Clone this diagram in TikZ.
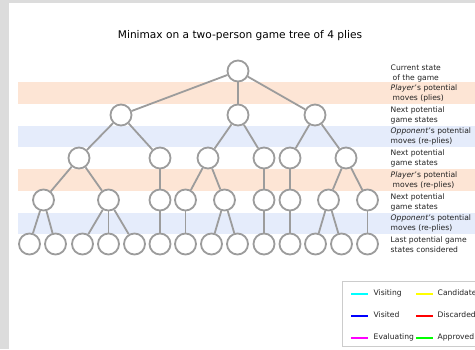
\documentclass[tikz,border=0pt]{standalone}
\usepackage{fontspec}
\setmainfont{DejaVu Sans}
\usepackage{xcolor}
\definecolor{cFrame}{HTML}{DCDCDC}
\definecolor{cEdge}{HTML}{9C9C9C}
\definecolor{cPly}{HTML}{FDE5D5}
\definecolor{cReply}{HTML}{E5ECFB}
\definecolor{cLegend}{HTML}{CCCCCC}
\definecolor{cText}{HTML}{222222}
\definecolor{cVisiting}{HTML}{00FFFF}
\definecolor{cVisited}{HTML}{0000FF}
\definecolor{cEvaluating}{HTML}{FF00FF}
\definecolor{cCandidate}{HTML}{FFFF00}
\definecolor{cDiscarded}{HTML}{FF0000}
\definecolor{cApproved}{HTML}{00FF00}
\usepackage{tikz}
\usetikzlibrary{positioning}
\tikzset{
  node-state/.style={draw=cEdge,line width=1.8pt,circle,fill=white,
    minimum size=21pt,inner sep=0pt},
  edge/.style={draw=cEdge,line width=1.8pt},
  band-ply/.style={fill=cPly},
  band-reply/.style={fill=cReply},
  level-label/.style={anchor=west,align=left,inner sep=0pt,text=cText,
    font=\fontsize{7.6}{10}\selectfont},
  legend-line/.style={line width=1.8pt},
  legend-text/.style={anchor=west,inner sep=0pt,text=cText,
    font=\fontsize{7.6}{9}\selectfont},
}

\begin{document}
\begin{tikzpicture}[x=1pt,y=-1pt]
  % frame and bands
  \fill[cFrame] (0,0) rectangle (475,349);
  \fill[white] (8.5,2.5) rectangle (475,349);
  \useasboundingbox (0,0) rectangle (475,349);
  \fill[band-ply] (18,82) rectangle (475,104);
  \fill[band-reply] (18,126) rectangle (475,147);
  \fill[band-ply] (18,169) rectangle (475,191);
  \fill[band-reply] (18,213) rectangle (475,234);

  \node[font=\fontsize{10.6}{12}\selectfont,text=black] (title) at (240,36)
    {Minimax on a two-person game tree of 4 plies};

  % tree
  \node[node-state] (r) at (238,71) {};
  \node[node-state] (a1) at (121,115) {};
  \node[node-state] (a2) at (238,115) {};
  \node[node-state] (a3) at (315,115) {};
  \node[node-state] (b1) at (79,158) {};
  \node[node-state] (b2) at (160,158) {};
  \node[node-state] (b3) at (208,158) {};
  \node[node-state] (b4) at (264,158) {};
  \node[node-state] (b5) at (290,158) {};
  \node[node-state] (b6) at (346,158) {};
  \node[node-state] (c1) at (43.5,200) {};
  \node[node-state] (c2) at (108.5,200) {};
  \node[node-state] (c3) at (160,200) {};
  \node[node-state] (c4) at (185.5,200) {};
  \node[node-state] (c5) at (224.5,200) {};
  \node[node-state] (c6) at (264,200) {};
  \node[node-state] (c7) at (290,200) {};
  \node[node-state] (c8) at (328.5,200) {};
  \node[node-state] (c9) at (367.5,200) {};
  \foreach \i/\x in {1/29.5,2/55.5,3/82.5,4/108.5,5/134.5,6/160,7/185.5,
    8/211.5,9/237.5,10/264,11/290,12/315.5,13/341.5,14/367.5}
    \node[node-state] (d\i) at (\x,244) {};

  \draw[edge] (r) -- (a1);
  \draw[edge] (r) -- (a2);
  \draw[edge] (r) -- (a3);
  \draw[edge] (a1) -- (b1);
  \draw[edge] (a1) -- (b2);
  \draw[edge] (a2) -- (b3);
  \draw[edge] (a2) -- (b4);
  \draw[edge] (a3) -- (b5);
  \draw[edge] (a3) -- (b6);
  \draw[edge] (b1) -- (c1);
  \draw[edge] (b1) -- (c2);
  \draw[edge] (b2) -- (c3);
  \draw[edge] (b3) -- (c4);
  \draw[edge] (b3) -- (c5);
  \draw[edge] (b4) -- (c6);
  \draw[edge] (b5) -- (c7);
  \draw[edge] (b6) -- (c8);
  \draw[edge] (b6) -- (c9);
  \draw[edge] (c1) -- (d1);
  \draw[edge] (c1) -- (d2);
  \draw[edge] (c2) -- (d3);
  \draw[edge] (c2) -- (d4);
  \draw[edge] (c2) -- (d5);
  \draw[edge] (c3) -- (d6);
  \draw[edge] (c4) -- (d7);
  \draw[edge] (c5) -- (d8);
  \draw[edge] (c5) -- (d9);
  \draw[edge] (c6) -- (d10);
  \draw[edge] (c7) -- (d11);
  \draw[edge] (c8) -- (d12);
  \draw[edge] (c8) -- (d13);
  \draw[edge] (c9) -- (d14);

  % level labels
  \node[level-label] (l0) at (390.5,73) {Current state\\\hspace{2pt}of the game};
  \node[level-label] (l1) at (390.5,93) {\textit{Player}'s potential\\\hspace{2pt}moves (plies)};
  \node[level-label] (l2) at (390.5,115) {Next potential\\game states};
  \node[level-label] (l3) at (390.5,136.5) {\textit{Opponent}'s potential\\moves (re-plies)};
  \node[level-label] (l4) at (390.5,158) {Next potential\\game states};
  \node[level-label] (l5) at (390.5,180) {\textit{Player}'s potential\\\hspace{2pt}moves (re-plies)};
  \node[level-label] (l6) at (390.5,202) {Next potential\\game states};
  \node[level-label] (l7) at (390.5,223.5) {\textit{Opponent}'s potential\\moves (re-plies)};
  \node[level-label] (l8) at (390.5,245) {Last potential game\\states considered};

  % legend
  \draw[cLegend,fill=white] (342.5,281) rectangle (480,346);
  \draw[legend-line,cVisiting] (351,294) -- (367.5,294);
  \node[legend-text] (k1) at (373.5,293) {Visiting};
  \draw[legend-line,cVisited] (351,316) -- (367.5,316);
  \node[legend-text] (k2) at (373.5,315) {Visited};
  \draw[legend-line,cEvaluating] (351,338) -- (367.5,338);
  \node[legend-text] (k3) at (373.5,337) {Evaluating};
  \draw[legend-line,cCandidate] (416,294) -- (432.5,294);
  \node[legend-text] (k4) at (437.5,293) {Candidate};
  \draw[legend-line,cDiscarded] (416,316) -- (432.5,316);
  \node[legend-text] (k5) at (437.5,315) {Discarded};
  \draw[legend-line,cApproved] (416,338) -- (432.5,338);
  \node[legend-text] (k6) at (437.5,337) {Approved};
\end{tikzpicture}
\end{document}
